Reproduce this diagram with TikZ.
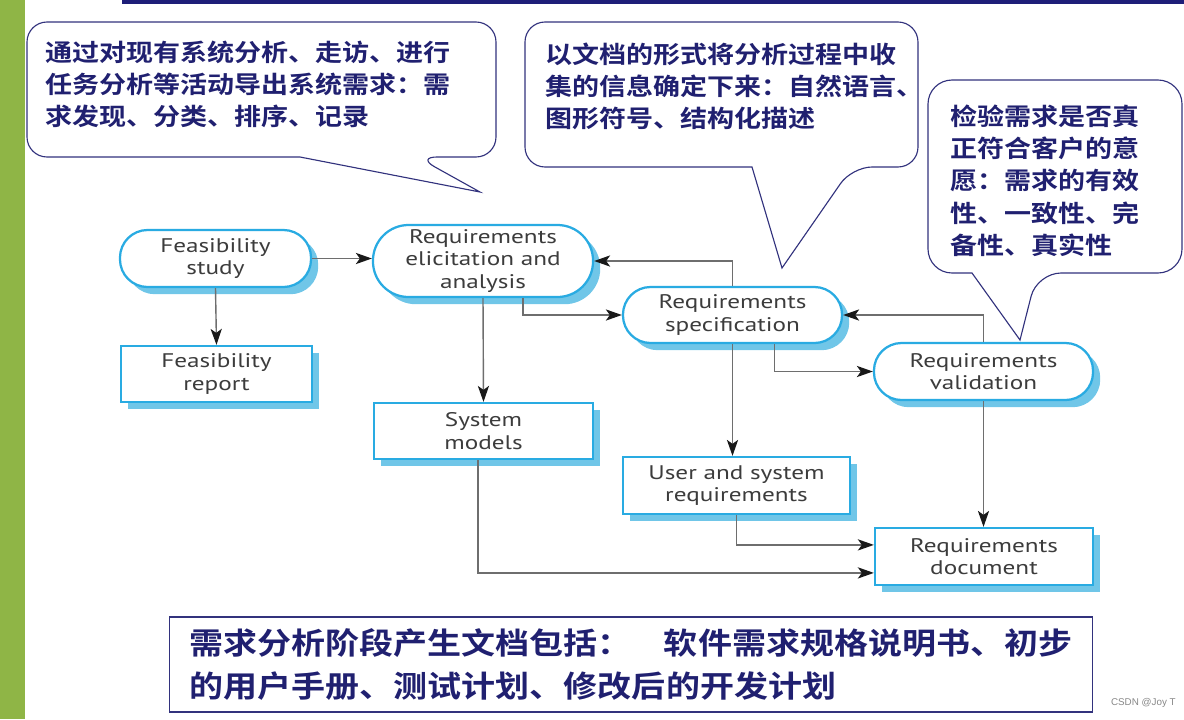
\documentclass[tikz,border=0pt]{standalone}
\usepackage{fontspec}
\newfontfamily\cjk{Noto Sans CJK SC Bold}[FakeStretch=1.13]
\newfontfamily\boxfont{PT Sans}[FakeStretch=1.28]
\newfontfamily\markfont{Liberation Sans}
\usepackage{tikz}
\usetikzlibrary{arrows.meta,shadows}
\definecolor{barGreen}{RGB}{143,181,70}
\definecolor{topNavy}{RGB}{30,30,120}
\definecolor{navyText}{RGB}{32,32,112}
\definecolor{navyLine}{RGB}{50,50,125}
\definecolor{boxBlue}{RGB}{41,171,226}
\definecolor{shadowBlue}{RGB}{112,198,232}
\definecolor{labelGray}{RGB}{60,60,60}
\definecolor{lineGray}{RGB}{110,110,110}
\definecolor{tipDark}{RGB}{25,25,25}
\definecolor{markGray}{RGB}{135,135,135}

\begin{document}
\begin{tikzpicture}[x=0.025cm,y=-0.025cm,
  basebox/.style={draw=boxBlue,line width=1.6pt,fill=white,inner sep=0pt,
    align=center,text=labelGray,font=\boxfont\fontsize{14}{16}\selectfont,
    drop shadow={shadow xshift=0.18cm,shadow yshift=-0.18cm,fill=shadowBlue,opacity=1}},
  procbox/.style={basebox,rounded corners=0.69cm},
  docbox/.style={basebox},
  flow/.style={draw=lineGray,line width=1pt,
    -{Stealth[length=0.4cm,width=0.28cm,inset=0.1cm,color=tipDark]}},
  balloon/.style={draw=navyLine,line width=0.8pt,fill=white},
  note/.style={anchor=north west,align=left,inner sep=0pt,text=navyText,
    font=\cjk\fontsize{17}{22.8}\selectfont}]
\useasboundingbox (0,0) rectangle (1184,719);
\fill[barGreen] (0,0) rectangle (25,719);
\fill[topNavy] (122,0) rectangle (1184,4);

% callouts
\draw[balloon] (480,192) -- (300,157) [rounded corners=0.5cm] -- (27,157) -- (27,22)
  -- (496,22) -- (496,157) -- (417,157) [sharp corners] -- cycle;
\draw[balloon] (782,268) -- (752,167) [rounded corners=0.5cm] -- (525,167) -- (525,22)
  -- (918,22) -- (918,167) -- (852,167) [sharp corners] -- cycle;
\draw[balloon] (1020,340) -- (972,273) [rounded corners=0.6cm] -- (928,273) -- (928,80)
  -- (1182,80) -- (1182,273) -- (1037,273) [sharp corners] -- cycle;
\node[note] (elicitnote) at (45,41) {通过对现有系统分析、走访、进行\\任务分析等活动导出系统需求：需\\求发现、分类、排序、记录};
\node[note] (specnote) at (545,43) {以文档的形式将分析过程中收\\集的信息确定下来：自然语言、\\图形符号、结构化描述};
\node[note] (validnote) at (950,105) {检验需求是否真\\正符合客户的意\\愿：需求的有效\\性、一致性、完\\备性、真实性};

% process
\node[procbox,minimum width=4.775cm,minimum height=1.425cm] (fstudy) at (215.5,258.5) {Feasibility\\study};
\node[docbox,minimum width=4.775cm,minimum height=1.4cm] (freport) at (216.5,374) {Feasibility\\report};
\node[procbox,rounded corners=0.89cm,minimum width=5.5cm,minimum height=1.8cm] (elicit) at (483,261) {Requirements\\elicitation and\\analysis};
\node[docbox,minimum width=5.475cm,minimum height=1.4cm] (smodels) at (483.5,431) {System\\models};
\node[procbox,minimum width=5.475cm,minimum height=1.4cm] (spec) at (732.5,315) {Requirements\\specification};
\node[procbox,minimum width=5.475cm,minimum height=1.425cm] (valid) at (983.5,371.5) {Requirements\\validation};
\node[docbox,minimum width=5.675cm,minimum height=1.425cm] (usersys) at (736.5,485.5) {User and system\\requirements};
\node[docbox,minimum width=5.45cm,minimum height=1.425cm] (reqdoc) at (984,556.5) {Requirements\\document};

\draw[flow] (fstudy.east) -- (fstudy.east -| elicit.west);
\draw[flow] (fstudy.south) -- (freport.north);
\draw[flow] (elicit.south) -- (smodels.north);
\draw[flow] ([xshift=1cm]elicit.south) |- (spec.west);
\draw[flow] (spec.north) |- (elicit.east);
\draw[flow] (spec.south) -- (spec.south |- usersys.north);
\draw[flow] ([xshift=1.05cm]spec.south) |- (valid.west);
\draw[flow] (valid.north) |- (spec.east);
\draw[flow] (valid.south) -- (valid.south |- reqdoc.north);
\draw[flow] (usersys.south) |- ([yshift=0.29cm]reqdoc.west);
\draw[flow] ([xshift=-0.14cm]smodels.south) |- ([yshift=-0.41cm]reqdoc.west);

% summary
\node[draw=navyLine,line width=0.8pt,minimum width=23.05cm,minimum height=2.375cm,
  align=left,text=navyText,font=\cjk\fontsize{21.4}{30.5}\selectfont] (docs) at (631,664.5)
  {需求分析阶段产生文档包括：\hspace{0.8cm}软件需求规格说明书、初步\\的用户手册、测试计划、修改后的开发计划};
\node[anchor=east,inner sep=0pt,text=markGray,font=\markfont\fontsize{7}{8}\selectfont] (mark) at (1176,703) {CSDN @Joy T};
\end{tikzpicture}
\end{document}
